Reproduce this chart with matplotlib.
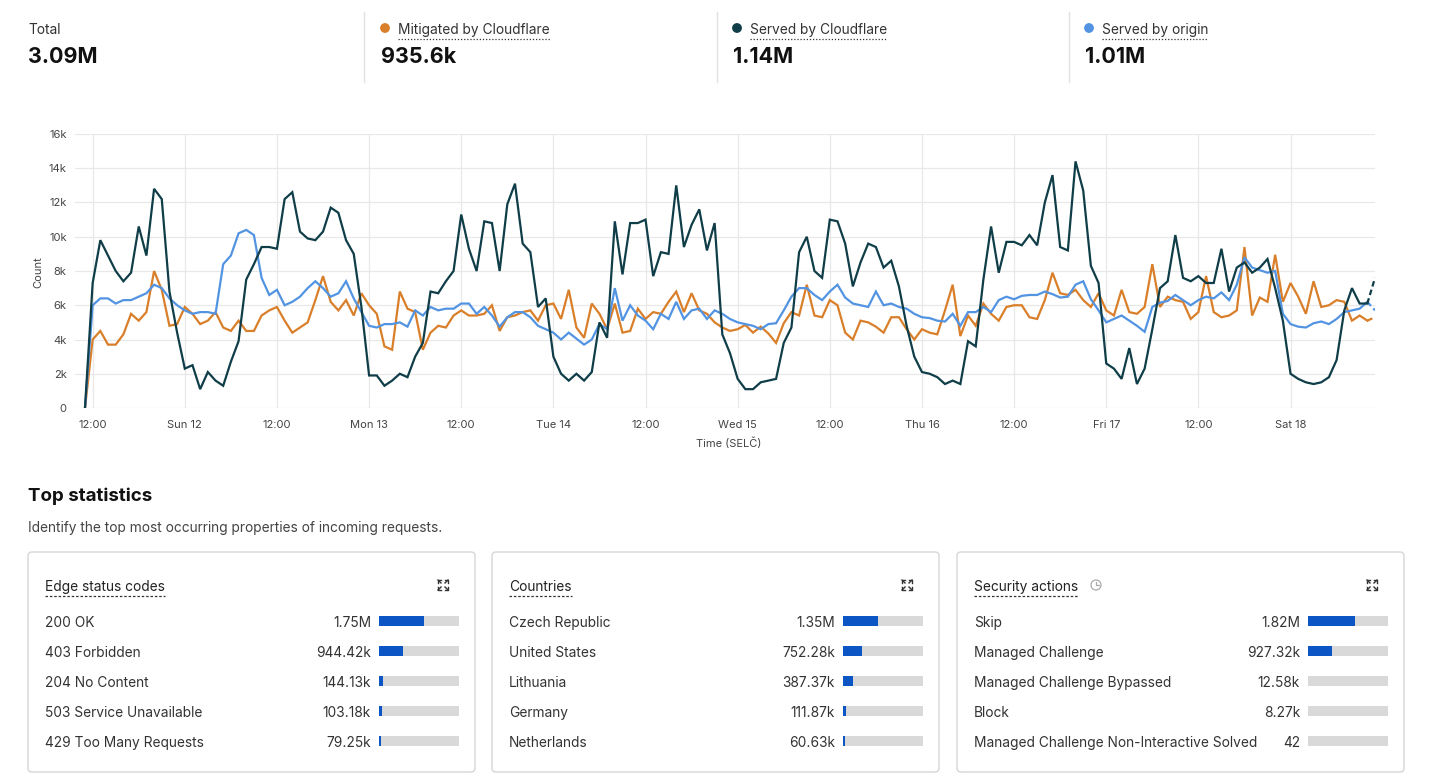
import numpy as np
import matplotlib.pyplot as plt
from matplotlib.patches import FancyBboxPatch, Circle
from matplotlib.lines import Line2D
from matplotlib.transforms import IdentityTransform

plt.rcParams['font.family'] = ['Inter', 'DejaVu Sans']

W, H = 1434, 781

# hourly request counts in thousands, Sat 11 11:00 -> Sat 18 11:00
served_cf = [
    0, 7.3, 9.8, 8.9, 8.0, 7.4, 7.9, 10.6, 8.9, 12.8, 12.2, 6.8, 4.4, 2.3, 2.5, 1.1, 2.1, 1.6, 1.3, 2.7,
    3.9, 7.5, 8.4, 9.4, 9.4, 9.3, 12.2, 12.6, 10.3, 9.9, 9.8, 10.3, 11.7, 11.4, 9.8, 9.0, 5.9, 1.9, 1.9, 1.3,
    1.6, 2.0, 1.8, 3.0, 3.8, 6.8, 6.7, 7.4, 8.0, 11.3, 9.3, 8.0, 10.9, 10.8, 8.0, 11.9, 13.1, 9.6, 9.1, 5.9,
    6.4, 3.0, 2.0, 1.6, 2.0, 1.6, 2.1, 5.0, 4.1, 10.9, 7.8, 10.8, 10.8, 11.0, 7.7, 9.1, 9.0, 13.0, 9.4, 10.7,
    11.6, 9.2, 10.8, 4.3, 3.2, 1.7, 1.1, 1.1, 1.5, 1.6, 1.7, 3.8, 4.7, 9.1, 10.0, 8.0, 7.6, 11.0, 10.9, 9.6,
    7.1, 8.5, 9.6, 9.4, 8.2, 8.6, 7.1, 4.8, 3.0, 2.1, 2.0, 1.8, 1.4, 1.6, 1.4, 3.9, 3.6, 7.5, 10.6, 7.9,
    9.7, 9.7, 9.5, 10.1, 9.5, 12.0, 13.6, 9.4, 9.2, 14.4, 12.7, 8.3, 7.3, 2.6, 2.3, 1.7, 3.5, 1.4, 2.3, 4.6,
    7.0, 7.4, 10.1, 7.6, 7.4, 7.7, 7.3, 7.3, 9.3, 6.8, 8.2, 8.5, 7.9, 8.2, 8.7, 7.0, 5.1, 2.0, 1.7, 1.5,
    1.4, 1.5, 1.8, 2.8, 5.7, 7.0, 6.1, 6.1, 7.6]
mitigated = [
    0, 4.0, 4.5, 3.7, 3.7, 4.3, 5.5, 5.1, 5.6, 8.0, 6.9, 4.8, 4.9, 5.9, 5.5, 4.9, 5.1, 5.6, 4.7, 4.5,
    5.1, 4.5, 4.5, 5.4, 5.7, 5.9, 5.1, 4.4, 4.7, 5.0, 6.3, 7.7, 6.2, 5.7, 6.3, 5.4, 6.7, 6.0, 5.5, 3.6,
    3.4, 6.8, 5.8, 5.6, 3.4, 4.4, 4.8, 4.7, 5.4, 5.7, 5.4, 5.4, 5.5, 6.0, 4.5, 5.3, 5.4, 5.6, 5.7, 5.1,
    6.0, 6.1, 5.2, 6.9, 4.7, 4.1, 6.1, 5.5, 4.6, 6.1, 4.4, 4.5, 5.8, 5.2, 5.6, 5.5, 6.2, 6.8, 5.6, 6.7,
    5.7, 5.5, 5.0, 4.7, 4.5, 4.6, 4.85, 4.4, 4.75, 4.35, 3.8, 4.95, 5.6, 5.4, 7.2, 5.4, 5.3, 6.3, 6.0, 4.4,
    4.0, 5.1, 5.0, 4.75, 4.4, 5.3, 5.3, 4.6, 4.0, 4.6, 4.4, 4.3, 5.7, 7.2, 4.2, 5.4, 4.8, 6.1, 5.5, 5.1,
    5.9, 6.0, 6.0, 5.3, 5.2, 6.3, 7.9, 6.7, 6.6, 6.9, 6.3, 5.9, 6.7, 5.7, 5.4, 6.9, 5.6, 5.5, 5.9, 8.4,
    5.9, 6.5, 6.3, 6.2, 5.2, 5.6, 7.7, 5.6, 5.3, 5.4, 5.7, 9.4, 5.4, 6.45, 6.2, 8.95, 6.2, 7.3, 6.5, 5.5,
    7.4, 5.9, 6.0, 6.3, 6.2, 5.1, 5.4, 5.1, 5.3]
served_origin = [
    0, 6.0, 6.4, 6.4, 6.1, 6.3, 6.3, 6.5, 6.7, 7.2, 7.0, 6.4, 6.0, 5.7, 5.5, 5.6, 5.6, 5.5, 8.4, 8.9,
    10.2, 10.4, 10.1, 7.6, 6.6, 6.9, 6.0, 6.2, 6.5, 7.0, 7.4, 7.0, 6.5, 6.7, 7.4, 6.4, 5.6, 4.8, 4.7, 4.9,
    4.9, 5.0, 4.75, 5.7, 5.4, 5.9, 5.7, 5.8, 5.8, 6.1, 6.1, 5.5, 5.9, 5.4, 4.75, 5.3, 5.6, 5.6, 5.3, 4.8,
    4.6, 4.4, 4.0, 4.4, 4.05, 3.7, 4.0, 4.9, 4.6, 7.0, 5.1, 6.0, 5.4, 5.1, 4.6, 5.5, 5.2, 6.2, 5.2, 5.7,
    5.8, 5.2, 5.7, 5.5, 5.2, 5.0, 4.9, 4.8, 4.6, 4.9, 4.95, 5.7, 6.5, 7.0, 7.0, 6.6, 6.3, 6.8, 7.2, 6.45,
    6.1, 6.0, 5.9, 6.8, 6.0, 6.1, 5.9, 5.8, 5.5, 5.3, 5.25, 5.1, 5.05, 5.5, 4.8, 5.6, 5.6, 5.9, 5.6, 6.3,
    6.5, 6.35, 6.55, 6.6, 6.6, 6.8, 6.65, 6.45, 6.5, 7.2, 7.4, 6.35, 5.7, 5.0, 5.2, 5.4, 5.1, 4.8, 4.45, 5.9,
    6.15, 6.25, 6.6, 6.3, 6.0, 6.3, 6.5, 6.4, 6.75, 6.3, 7.2, 8.8, 8.2, 8.05, 7.9, 8.0, 5.5, 4.9, 4.75, 4.7,
    4.95, 5.05, 4.9, 5.2, 5.6, 5.7, 5.8, 6.2, 5.7]

tick_hours = [1, 13, 25, 37, 49, 61, 73, 85, 97, 109, 121, 133, 145, 157]
tick_labels = ['12:00', 'Sun 12', '12:00', 'Mon 13', '12:00', 'Tue 14', '12:00', 'Wed 15',
               '12:00', 'Thu 16', '12:00', 'Fri 17', '12:00', 'Sat 18']

summary_labels = ['Total', 'Mitigated by Cloudflare', 'Served by Cloudflare', 'Served by origin']
summary_values = ['3.09M', '935.6k', '1.14M', '1.01M']

total_requests = 3.09e6
status_codes = ['200 OK', '403 Forbidden', '204 No Content', '503 Service Unavailable', '429 Too Many Requests']
status_counts = [1.75e6, 944.42e3, 144.13e3, 103.18e3, 79.25e3]
countries = ['Czech Republic', 'United States', 'Lithuania', 'Germany', 'Netherlands']
country_counts = [1.35e6, 752.28e3, 387.37e3, 111.87e3, 60.63e3]
actions = ['Skip', 'Managed Challenge', 'Managed Challenge Bypassed', 'Block',
           'Managed Challenge Non-Interactive Solved']
action_counts = [1.82e6, 927.32e3, 12.58e3, 8.27e3, 42]

c_orange = '#d97f2a'
c_dark = '#0f3d48'
c_blue = '#5294e2'
c_bar = '#0b55c5'
c_track = '#d9d9d9'
c_text = '#222222'
c_grid = '#e8e8e8'
fs = 9.9  # body text size

fig = plt.figure(figsize=(W / 100, H / 100), dpi=100)
T = IdentityTransform()


def txt(x, y, s, **kw):
    # y is the visual centre in image pixels (top-down)
    return fig.text(x, H - y - 2, s, transform=T, **kw)


def underline(t, style):
    r = fig.canvas.get_renderer()
    bb = t.get_window_extent(renderer=r)
    fig.add_artist(Line2D([bb.x0, bb.x1], [bb.y0 - 2, bb.y0 - 2], transform=T,
                          color='#333333', lw=0.9, linestyle=style))


def fmt(v):
    if v >= 1e6:
        return f'{v / 1e6:.2f}M'
    if v >= 1e3:
        return f'{v / 1e3:.2f}k'
    return f'{v:.0f}'


# --- header summary ---
sum_x = [28, 381, 733, 1085]
dot_colors = [None, c_orange, c_dark, c_blue]
for k in range(4):
    x = sum_x[k]
    if dot_colors[k] is None:
        txt(x, 28, summary_labels[k], fontsize=fs, color='#333333', va='center')
    else:
        fig.add_artist(Circle((x + 4, H - 28), 4.2, transform=T, color=dot_colors[k]))
        t = txt(x + 17, 28, summary_labels[k], fontsize=fs, color='#333333', va='center')
        underline(t, (0, (1, 1.5)))
    txt(x, 55, summary_values[k], fontsize=15.5, fontweight='bold', color='#111111', va='center')
for x in [364, 717, 1069]:
    fig.add_artist(Line2D([x, x], [H - 12, H - 82], transform=T, color='#e2e2e2', lw=1))

# --- time series chart ---
ax = fig.add_axes([75 / W, 1 - 408 / H, 1300 / W, 274 / H])
hours = np.arange(len(served_cf))
series = [(mitigated, c_orange), (served_origin, c_blue), (served_cf, c_dark)]
for vals, col in series:
    v = np.array(vals) * 1000
    ax.plot(hours[:-1], v[:-1], color=col, lw=1.6, solid_joinstyle='miter')
    ax.plot(hours[-2:], v[-2:], color=col, lw=1.6, linestyle=(0, (2.5, 1.5)))
ax.set_xlim(-1.3, 168)
ax.set_ylim(0, 16000)
ax.set_yticks(np.arange(0, 16001, 2000))
ax.set_yticklabels(['0'] + [f'{k}k' for k in range(2, 17, 2)])
ax.set_xticks(tick_hours)
ax.set_xticklabels(tick_labels)
ax.tick_params(length=0, labelsize=8, colors='#444444')
ax.tick_params(axis='y', pad=6)
ax.tick_params(axis='x', pad=9)
ax.grid(True, color=c_grid, lw=0.9)
ax.set_axisbelow(True)
for s in ax.spines.values():
    s.set_visible(False)
txt(38, 270, 'Count', fontsize=8, color='#444444', rotation=90, ha='center', va='center')
txt(729, 441, 'Time (SELČ)', fontsize=8, color='#444444', ha='center', va='center')

# --- top statistics ---
txt(28, 494, 'Top statistics', fontsize=13.5, fontweight='bold', color='#111111', va='center')
txt(28, 526, 'Identify the top most occurring properties of incoming requests.',
    fontsize=fs, color='#444444', va='center')

panels = [
    (28, 'Edge status codes', status_codes, status_counts),
    (492, 'Countries', countries, country_counts),
    (957, 'Security actions', actions, action_counts),
]
row_y = [621, 651, 681, 711, 741]
for px0, title, labels, counts in panels:
    box = FancyBboxPatch((px0, H - 772), 447, 220, transform=T,
                         boxstyle='round,pad=0,rounding_size=4',
                         facecolor='none', edgecolor='#d6d6d6', lw=1)
    fig.add_artist(box)
    t = txt(px0 + 17, 585, title, fontsize=fs, color=c_text, va='center')
    underline(t, (0, (2, 1.5)))
    if title == 'Security actions':
        cx, cy = px0 + 139, H - 585
        fig.add_artist(Circle((cx, cy), 5, transform=T, fill=False, edgecolor='#aaaaaa', lw=0.9))
        fig.add_artist(Line2D([cx, cx, cx + 3], [cy + 3, cy, cy], transform=T, color='#aaaaaa', lw=0.9))
    # expand icon
    ix, iy = px0 + 415, H - 585
    for sx in (-1, 1):
        for sy in (-1, 1):
            x0, y0 = ix + sx * 5, iy + sy * 5
            fig.add_artist(Line2D([x0 - sx * 3, x0, x0], [y0, y0, y0 - sy * 3], transform=T,
                                  color='#333333', lw=1))
            fig.add_artist(Line2D([x0, x0 - sx * 3], [y0, y0 - sy * 3], transform=T,
                                  color='#333333', lw=1))
    for k in range(5):
        txt(px0 + 17, row_y[k], labels[k], fontsize=fs, color='#333333', va='center')
        txt(px0 + 343, row_y[k], fmt(counts[k]), fontsize=fs, color='#333333', va='center', ha='right')
    bx = fig.add_axes([(px0 + 351) / W, 1 - 756 / H, 80 / W, 150 / H])
    rows = np.arange(5)
    bx.barh(rows, [total_requests] * 5, height=1 / 3, color=c_track)
    bx.barh(rows, counts, height=1 / 3, color=c_bar)
    bx.set_xlim(0, total_requests)
    bx.set_ylim(4.5, -0.5)
    bx.axis('off')

fig.savefig('out.png', dpi=100, facecolor='white')
